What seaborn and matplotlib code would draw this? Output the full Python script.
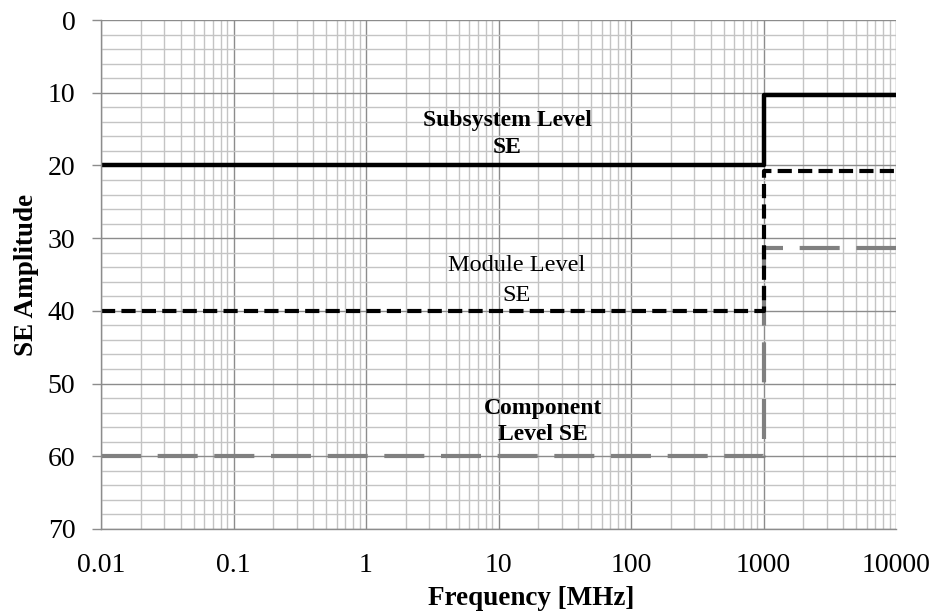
import numpy as np
import pandas as pd
import matplotlib
matplotlib.use("Agg")
import matplotlib.pyplot as plt
import seaborn as sns
from matplotlib.ticker import LogLocator, MultipleLocator, FixedLocator

freq = [0.01, 1000, 1000, 10000]
subsystem = [20, 20, 10.3, 10.3]
module = [40, 40, 20.8, 20.8]
component = [60, 60, 31.3, 31.3]
x_ticks = [0.01, 0.1, 1, 10, 100, 1000, 10000]
x_labels = ["0.01", "0.1", "1", "10", "100", "1000", "10000"]
y_ticks = [0, 10, 20, 30, 40, 50, 60, 70]

sns.set_theme(style="white")
plt.rcParams['font.family'] = ['Liberation Serif', 'DejaVu Serif']
plt.rcParams['text.color'] = 'black'
plt.rcParams['axes.labelcolor'] = 'black'

fig = plt.figure(figsize=(9.35, 6.13), dpi=100)
ax = fig.add_axes([101/935, 1 - 529/613, (896-101)/935, (529-20)/613])

sns.lineplot(x=freq, y=component, ax=ax, sort=False, estimator=None, color="#808080",
             lw=3, dashes=False)
ax.lines[-1].set_dashes([9.6, 4.0])
sns.lineplot(x=freq, y=module, ax=ax, sort=False, estimator=None, color="black",
             lw=3, dashes=False)
ax.lines[-1].set_dashes([3.4, 1.5])
sns.lineplot(x=freq, y=subsystem, ax=ax, sort=False, estimator=None, color="black",
             lw=3.2, dashes=False)

ax.set_xscale("log")
ax.set_xlim(0.01, 10000)
ax.set_ylim(70, 0)
ax.xaxis.set_major_locator(FixedLocator(x_ticks))
ax.set_xticklabels(x_labels)
ax.xaxis.set_minor_locator(LogLocator(base=10, subs=np.arange(2, 10)))
ax.yaxis.set_major_locator(FixedLocator(y_ticks))
ax.yaxis.set_minor_locator(MultipleLocator(2))

ax.grid(which="major", color="#8c8c8c", lw=1.0, zorder=0)
ax.grid(which="minor", color="#c4c4c4", lw=1.0, zorder=0)
ax.set_axisbelow(True)

for s in ["top", "right"]:
    ax.spines[s].set_visible(False)
for s in ["left", "bottom"]:
    ax.spines[s].set_color("#8c8c8c")
    ax.spines[s].set_linewidth(1.0)

ax.tick_params(axis="y", which="major", left=True, length=6.5, color="#8c8c8c", width=1,
               labelsize=20, pad=12, labelcolor="black")
ax.tick_params(axis="y", which="minor", left=False)
ax.tick_params(axis="x", which="both", bottom=False, length=0, labelsize=20, pad=17,
               labelcolor="black")

ax.set_xlabel("Frequency [MHz]", fontsize=19.5, fontweight="bold", color="black")
ax.xaxis.label.set_va("baseline")
ax.xaxis.set_label_coords(0.541, -0.149)
ax.set_ylabel("SE Amplitude", fontsize=19.5, fontweight="bold", color="black")
ax.yaxis.label.set_va("center")
ax.yaxis.set_label_coords(-0.094, 0.5)

ax.text(11.6, 15.7, "Subsystem Level\nSE", ha="center", va="center", fontsize=17,
        fontweight="bold", linespacing=1.35, color="black")
ax.text(13.8, 35.8, "Module Level\nSE", ha="center", va="center", fontsize=17.5,
        linespacing=1.6, color="black")
ax.text(21.7, 55.2, "Component\nLevel SE", ha="center", va="center", fontsize=17,
        fontweight="bold", linespacing=1.35, color="black")

fig.savefig("out.png", dpi=100)
